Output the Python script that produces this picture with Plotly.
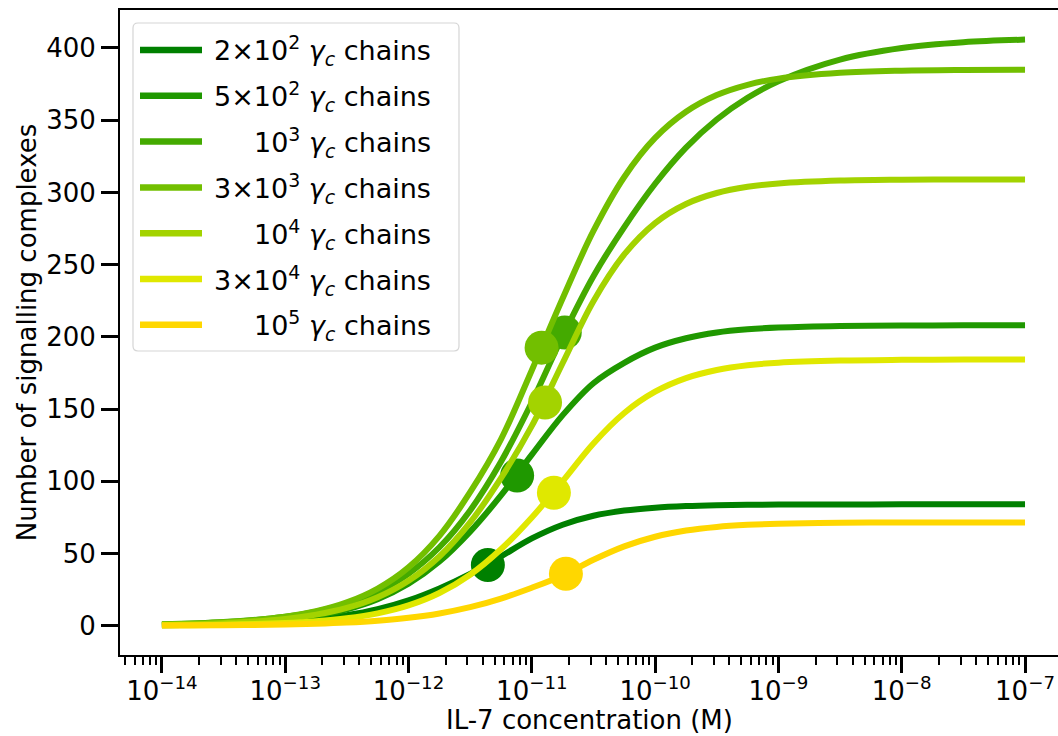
import plotly.graph_objects as go

# IL-7 concentration grid (M)
il7_conc = [1e-14, 3.16e-14, 1e-13, 1.78e-13, 3.16e-13, 5.62e-13, 1e-12, 1.78e-12,
            3.16e-12, 5.62e-12, 1e-11, 1.78e-11, 3.16e-11, 5.62e-11, 1e-10, 1.78e-10,
            3.16e-10, 5.62e-10, 1e-9, 3.16e-9, 1e-8, 3.16e-8, 1e-7]

# Number of signalling complexes for each gamma_c chain count
sig_2e2 = [0.35, 0.98, 2.69, 4.43, 7.18, 11.4, 17.5, 25.8, 35.8, 47.9, 60.4, 69.9,
           76.1, 79.7, 81.7, 82.8, 83.4, 83.7, 83.84, 83.96, 84, 84, 84]
sig_5e2 = [0.53, 1.5, 4.15, 6.9, 11.3, 18.3, 29.0, 44.4, 65.1, 90.2, 118.4, 145.8,
           167.9, 182, 192.5, 199, 203, 205.2, 206.4, 207.5, 207.84, 207.95, 208]
sig_1e3 = [0.99, 2.48, 6.16, 9.7, 15.2, 23.5, 36.0, 54.3, 79.8, 113.5, 154.7, 200.6,
           242, 276, 306, 331, 350.5, 365.5, 377, 392, 400, 404, 405.8]
sig_3e3 = [0.86, 2.3, 6.13, 9.97, 16.1, 25.7, 40.4, 62.2, 92.4, 129, 176.9, 226.7,
           273.3, 310.7, 337.7, 355.8, 367.4, 374.5, 378.8, 382.8, 384.3, 384.8, 384.9]
sig_1e4 = [0.66, 1.76, 4.7, 7.63, 12.3, 19.7, 31.1, 47.9, 71.5, 102.2, 138.3, 181.9,
           224.7, 257.1, 278.8, 292.0, 299.6, 303.9, 306.2, 308.2, 308.8, 309, 309]
sig_3e4 = [0.22, 0.63, 1.8, 3.04, 5.11, 8.51, 14.0, 22.6, 35.3, 52.9, 74.9, 100.1,
           126.2, 147.3, 162.0, 171.4, 177.0, 180.3, 182.1, 183.6, 184.1, 184.25, 184.3]
sig_1e5 = [0.12, 0.31, 0.82, 1.33, 2.14, 3.43, 5.43, 8.45, 12.8, 18.8, 26.3, 34.8,
           45.6, 54.9, 61.6, 65.9, 68.4, 69.8, 70.6, 71.24, 71.42, 71.48, 71.5]

# Half-maximal response points (EC50) per curve
ec50_conc = [4.4e-12, 7.6e-12, 1.85e-11, 1.2e-11, 1.28e-11, 1.51e-11, 1.89e-11]
ec50_value = [42, 104, 203, 192.5, 154.5, 92, 36]

chain_labels = ["2×10<sup>2</sup>", "5×10<sup>2</sup>", "10<sup>3</sup>", "3×10<sup>3</sup>",
                "10<sup>4</sup>", "3×10<sup>4</sup>", "10<sup>5</sup>"]
colors = ["#008000", "#1f9800", "#44aa00", "#72bf00", "#a3d300", "#e0e800", "#ffd700"]

x_tick_vals = [1e-14, 1e-13, 1e-12, 1e-11, 1e-10, 1e-9, 1e-8, 1e-7]
x_tick_text = ["10<sup>−14</sup>", "10<sup>−13</sup>", "10<sup>−12</sup>", "10<sup>−11</sup>",
               "10<sup>−10</sup>", "10<sup>−9</sup>", "10<sup>−8</sup>", "10<sup>−7</sup>"]
y_tick_vals = [0, 50, 100, 150, 200, 250, 300, 350, 400]

x_title = "IL-7 concentration (M)"
y_title = "Number of signalling complexes"

series = [sig_2e2, sig_5e2, sig_1e3, sig_3e3, sig_1e4, sig_3e4, sig_1e5]

FONT = "DejaVu Sans"
W, H = 1058, 736
L, R, T, B = 120, 0, 10, 81
PW, PH = W - L - R, H - T - B

fig = go.Figure()
for i, vals in enumerate(series):
    fig.add_trace(go.Scatter(
        x=il7_conc, y=vals, mode="lines",
        line=dict(color=colors[i], width=6, shape="spline", smoothing=1.0),
        showlegend=False, hoverinfo="skip"))
    fig.add_trace(go.Scatter(
        x=[ec50_conc[i]], y=[ec50_value[i]], mode="markers",
        marker=dict(color=colors[i], size=34, line=dict(width=0)),
        showlegend=False, hoverinfo="skip"))

# minor ticks on the log axis
minor_vals = []
for e in range(-15, -6):
    for m in range(2, 10):
        minor_vals.append(m * 10.0 ** e)

fig.update_xaxes(
    type="log", range=[-14.34, -14.34 + PW / 123.3],
    tickmode="array", tickvals=x_tick_vals, ticktext=x_tick_text,
    ticks="outside", ticklen=16, tickwidth=3, tickcolor="black",
    ticklabelstandoff=-4,
    minor=dict(tickmode="array", tickvals=minor_vals, ticks="outside",
               ticklen=8, tickwidth=2, tickcolor="black", showgrid=False),
    showline=True, linecolor="black", linewidth=2, mirror=True,
    showgrid=False, zeroline=False,
    tickfont=dict(family=FONT, size=26, color="black"),
)
fig.update_yaxes(
    range=[-20.3, 426.3], tickmode="array", tickvals=y_tick_vals,
    ticks="outside", ticklen=17, tickwidth=3, tickcolor="black",
    showline=True, linecolor="black", linewidth=2, mirror=False,
    showgrid=False, zeroline=False,
    tickfont=dict(family=FONT, size=26, color="black"),
    title=dict(text=y_title, font=dict(family=FONT, size=26, color="black"), standoff=2),
)


def px_x(px):
    return (px - L) / PW


def px_y(py):
    return (H - B - py) / PH


# legend frame with rounded corners
x0, x1, y0, y1 = px_x(133), px_x(459), px_y(23), px_y(351)
rx, ry = 5 / PW, 5 / PH
frame = (f"M{x0 + rx},{y0} L{x1 - rx},{y0} Q{x1},{y0} {x1},{y0 - ry} "
         f"L{x1},{y1 + ry} Q{x1},{y1} {x1 - rx},{y1} L{x0 + rx},{y1} "
         f"Q{x0},{y1} {x0},{y1 + ry} L{x0},{y0 - ry} Q{x0},{y0} {x0 + rx},{y0} Z")
shapes = [dict(type="path", path=frame, xref="paper", yref="paper",
               line=dict(color="#d5d5d5", width=1.2), fillcolor="rgba(255,255,255,0.8)",
               layer="above")]
annotations = []
row0, row_step = 50, 45.8
for i, lab in enumerate(chain_labels):
    ry_px = row0 + i * row_step
    shapes.append(dict(type="line", xref="paper", yref="paper",
                       x0=px_x(140), x1=px_x(202), y0=px_y(ry_px), y1=px_y(ry_px),
                       line=dict(color=colors[i], width=6.5), layer="above"))
    annotations.append(dict(
        text=f"{lab} <i>γ</i><sub><i>c</i></sub> chains",
        xref="paper", yref="paper", x=px_x(433), y=px_y(ry_px + 1),
        xanchor="right", yanchor="middle", showarrow=False, align="right",
        font=dict(family=FONT, size=27, color="black")))

# x-axis title placed below the tick labels
annotations.append(dict(
    text=x_title, xref="paper", yref="paper", x=0.5, y=px_y(720),
    xanchor="center", yanchor="middle", showarrow=False, borderpad=0,
    font=dict(family=FONT, size=26, color="black")))

fig.update_layout(
    width=W, height=H, margin=dict(l=L, r=R, t=T, b=B, pad=0),
    plot_bgcolor="white", paper_bgcolor="white",
    font=dict(family=FONT, size=26, color="black"),
    shapes=shapes, annotations=annotations, showlegend=False,
)

fig.write_html("out.html")
